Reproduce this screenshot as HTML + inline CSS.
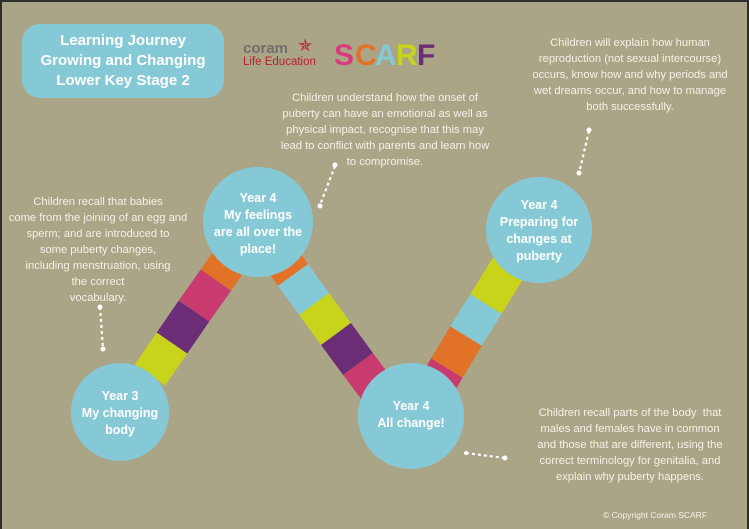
<!DOCTYPE html>
<html><head><meta charset="utf-8"><style>
body{margin:0;width:749px;height:529px;overflow:hidden;background:#2e2e2e;}
#c{position:absolute;left:2px;top:2px;width:745px;height:527px;background:#aba588;}
.t{position:absolute;color:#f4f1e6;font-family:"Liberation Sans",sans-serif;font-size:11.2px;line-height:16px;text-align:center;}
.b{position:absolute;color:#fff;font-family:"Liberation Sans",sans-serif;font-weight:bold;text-align:center;}
</style></head><body>
<div id="c"></div>
<svg style="position:absolute;left:0;top:0" width="749" height="529">
<g stroke-width="37" stroke-linecap="butt">
<line x1="150" y1="375" x2="172" y2="343" stroke="#c8d31c"/>
<line x1="172" y1="343" x2="194" y2="311" stroke="#6a2d76"/>
<line x1="194" y1="311" x2="216" y2="280" stroke="#c93b6e"/>
<line x1="216" y1="280" x2="240" y2="245" stroke="#e27227"/>
<line x1="272" y1="246" x2="293" y2="275" stroke="#e27227"/>
<line x1="293" y1="275" x2="314" y2="304" stroke="#86c9d6"/>
<line x1="314" y1="304" x2="336" y2="334" stroke="#c8d31c"/>
<line x1="336" y1="334" x2="358" y2="364" stroke="#6a2d76"/>
<line x1="358" y1="364" x2="382" y2="396" stroke="#c93b6e"/>
<line x1="432" y1="392" x2="447" y2="368" stroke="#c93b6e"/>
<line x1="447" y1="368" x2="466" y2="336" stroke="#e27227"/>
<line x1="466" y1="336" x2="486" y2="304" stroke="#86c9d6"/>
<line x1="486" y1="304" x2="512" y2="262" stroke="#c8d31c"/>
</g>
<g fill="#86c9d6">
<circle cx="120" cy="412" r="49"/>
<circle cx="258" cy="222" r="55"/>
<circle cx="411" cy="416" r="53"/>
<circle cx="539" cy="230" r="53"/>
</g>
<g stroke="#fff" stroke-width="2.2" stroke-dasharray="3 3" fill="none">
<line x1="100" y1="307" x2="103" y2="349"/>
<line x1="335" y1="166" x2="320" y2="205"/>
<line x1="589" y1="131" x2="579" y2="173"/>
<line x1="466" y1="453" x2="505" y2="458"/>
</g>
<g fill="#fff"><circle cx="100" cy="307" r="2.5"/><circle cx="103" cy="349" r="2.5"/><circle cx="335" cy="165" r="2.5"/><circle cx="320" cy="206" r="2.5"/><circle cx="589" cy="130" r="2.5"/><circle cx="579" cy="173" r="2.5"/><circle cx="466" cy="453" r="2"/><circle cx="505" cy="458" r="2.5"/></g>
<rect x="22" y="24" width="202" height="74" rx="18" fill="#86c9d6"/>
<text x="243" y="53" font-family="Liberation Sans,sans-serif" font-weight="bold" font-size="15" fill="#6e6e6e">coram</text>
<text x="298" y="51" font-size="17" fill="#b5202e">✯</text>
<text x="243" y="65" font-family="Liberation Sans,sans-serif" font-size="11.5" fill="#b5202e">Life Education</text>
<g font-family="Liberation Sans,sans-serif" font-weight="bold" font-size="30">
<text x="334" y="65" fill="#d93a7c">S</text><text x="355" y="65" fill="#e27227">C</text><text x="375" y="65" fill="#86c9d6">A</text><text x="396" y="65" fill="#c8d31c">R</text><text x="417" y="65" fill="#6a2d76">F</text>
</g>
</svg>
<div class="b" style="left:22px;top:31px;width:202px;font-size:15px;line-height:20px">Learning Journey<br>Growing and Changing<br>Lower Key Stage 2</div>
<div class="b" style="left:70px;top:388px;width:100px;font-size:12.5px;line-height:17px">Year 3<br>My changing<br>body</div>
<div class="b" style="left:203px;top:190px;width:110px;font-size:12.5px;line-height:17px">Year 4<br>My feelings<br>are all over the<br>place!</div>
<div class="b" style="left:360px;top:398px;width:102px;font-size:12.5px;line-height:17px">Year 4<br>All change!</div>
<div class="b" style="left:488px;top:197px;width:102px;font-size:12.5px;line-height:17px">Year 4<br>Preparing for<br>changes at<br>puberty</div>
<div class="t" style="left:0;top:194px;width:196px">Children recall that babies<br>come from the joining of an egg and<br>sperm; and are introduced to<br>some puberty changes,<br>including menstruation, using<br>the correct<br>vocabulary.</div>
<div class="t" style="left:270px;top:90px;width:230px">Children understand how the onset of<br>puberty can have an emotional as well as<br>physical impact, recognise that this may<br>lead to conflict with parents and learn how<br>to compromise.</div>
<div class="t" style="left:515px;top:35px;width:230px">Children will explain how human<br>reproduction (not sexual intercourse)<br>occurs, know how and why periods and<br>wet dreams occur, and how to manage<br>both successfully.</div>
<div class="t" style="left:520px;top:405px;width:220px">Children recall parts of the body&nbsp; that<br>males and females have in common<br>and those that are different, using the<br>correct terminology for genitalia, and<br>explain why puberty happens.</div>
<div class="t" style="left:590px;top:509px;width:130px;font-size:8.5px;line-height:12px">© Copyright Coram SCARF</div>
</body></html>
